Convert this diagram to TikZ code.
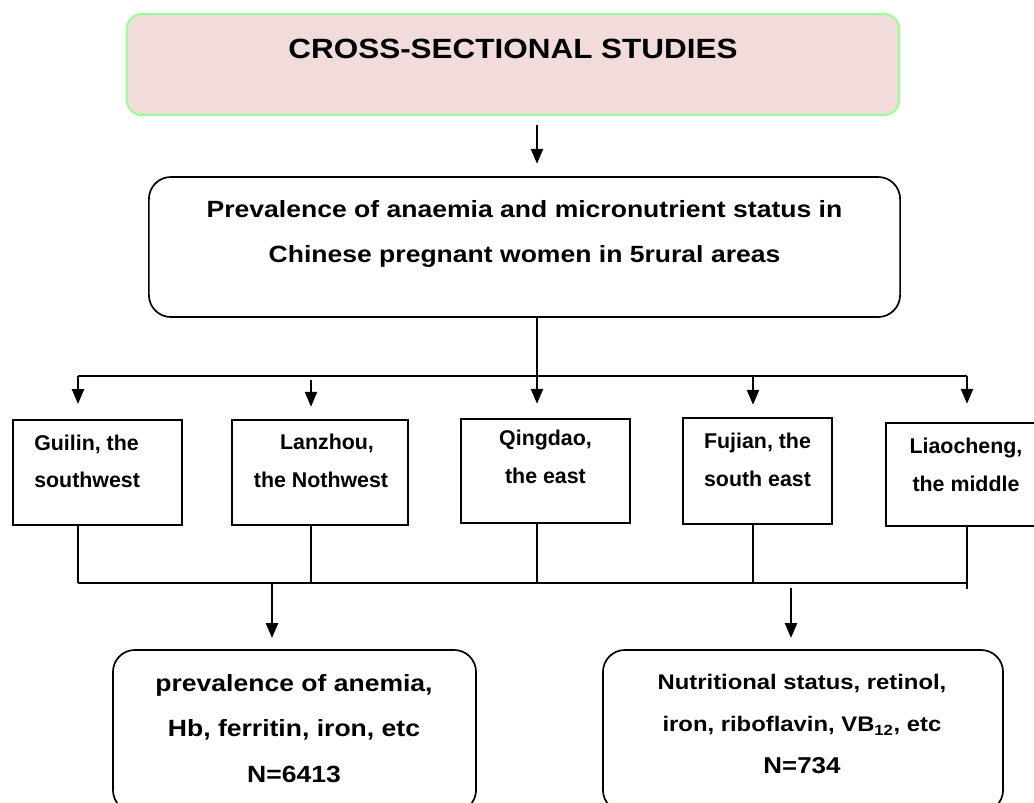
\documentclass[tikz,border=0pt]{standalone}
\usepackage{fontspec}
\setmainfont{Liberation Sans}
\newfontfamily\widesans{Liberation Sans}[FakeStretch=1.13]
\usetikzlibrary{arrows.meta}

\definecolor{titlepink}{HTML}{F2DCDB}
\definecolor{titlegreen}{HTML}{99FF99}

\begin{document}
\begin{tikzpicture}[x=0.025cm,y=-0.025cm,
  box/.style={draw,line width=1.2pt,inner sep=0pt,outer sep=0pt},
  roundbox/.style={box,rounded corners=0.55cm},
  conn/.style={line width=1.2pt},
  arr/.style={line width=1.4pt,-{Triangle[width=0.3cm,length=0.37cm]}},
  regtext/.style={font=\fontsize{15.2}{26.6}\selectfont\bfseries,align=center,inner sep=0pt},
  widetext/.style={font=\widesans\fontsize{16.7}{32.6}\selectfont\bfseries,align=center,inner sep=0pt}]
\useasboundingbox (0,0) rectangle (1034,803);

% boxes
\node[box,draw=titlegreen,fill=titlepink,line width=1.5pt,rounded corners=0.375cm,
  minimum width=19.3cm,minimum height=2.525cm] (title) at (513,64.5) {};
\node[roundbox,minimum width=18.775cm,minimum height=3.5cm] (facts) at (524.5,247) {};

\node[box,minimum width=4.225cm,minimum height=2.625cm] (guilin) at (97.5,472.5) {};
\node[box,minimum width=4.4cm,minimum height=2.625cm] (lanzhou) at (320,472.5) {};
\node[box,minimum width=4.225cm,minimum height=2.6cm] (qingdao) at (545.5,471) {};
\node[box,minimum width=3.725cm,minimum height=2.65cm] (fujian) at (757.5,471) {};
\node[box,minimum width=3.9cm,minimum height=2.575cm] (liaocheng) at (964,474.5) {};

\node[roundbox,minimum width=9.075cm,minimum height=4.05cm] (anemia) at (294.5,731) {};
\node[roundbox,minimum width=10cm,minimum height=4.05cm] (nutri) at (803,731) {};

% texts
\node[font=\widesans\fontsize{19.8}{24}\selectfont\bfseries,inner sep=0pt] (titletext) at (513,49) {CROSS-SECTIONAL STUDIES};
\node[widetext] (factstext) at (524.5,234) {Prevalence of anaemia and micronutrient status in\\Chinese pregnant women in 5rural areas};

\node[regtext,align=left,anchor=west] (guilintext) at (34,461.5) {Guilin, the\\southwest};
\node[regtext] (lanzhoutext) at (321,461) {\hspace*{0.3cm}Lanzhou,\\the Nothwest};
\node[regtext] (qingdaotext) at (545.5,457) {Qingdao,\\the east};
\node[regtext] (fujiantext) at (757.5,459.7) {Fujian, the\\south east};
\node[regtext] (liaochengtext) at (966,464.7) {Liaocheng,\\the middle};

\node[widetext] (anemiatext) at (294,728.5) {prevalence of anemia,\\Hb, ferritin, iron, etc\\N=6413};
\node[widetext,font=\widesans\fontsize{15}{29.8}\selectfont\bfseries] (nutritext) at (802,724.3)
  {Nutritional status, retinol,\\iron, riboflavin, VB\textsubscript{12}, etc\\\fontsize{16.3}{29.8}\selectfont N=734};

% connectors
\coordinate (t1) at (78,0);
\coordinate (t2) at (311,0);
\coordinate (t3) at (537,0);
\coordinate (t4) at (753,0);
\coordinate (t5) at (967,0);
\coordinate (busA) at (0,376);
\coordinate (busB) at (0,583);
\coordinate (dl) at (272,0);
\coordinate (dr) at (791,0);

\draw[arr,shorten <=0.25cm,shorten >=0.33cm] (t3 |- title.south) -- (t3 |- facts.north);
\draw[arr,shorten >=0.38cm] (t3 |- facts.south) -- (t3 |- qingdao.north);

\draw[conn] (t1 |- busA) -- (t5 |- busA);
\draw[arr,shorten >=0.4cm] (t1 |- busA) -- (t1 |- guilin.north);
\draw[arr,shorten <=0.1cm,shorten >=0.33cm] (t2 |- busA) -- (t2 |- lanzhou.north);
\draw[arr,shorten >=0.33cm] (t4 |- busA) -- (t4 |- fujian.north);
\draw[arr,shorten >=0.48cm] (t5 |- busA) -- (t5 |- liaocheng.north);

\draw[conn] (t1 |- guilin.south) -- (t1 |- busB);
\draw[conn] (t2 |- lanzhou.south) -- (t2 |- busB);
\draw[conn] (t3 |- qingdao.south) -- (t3 |- busB);
\draw[conn] (t4 |- fujian.south) -- (t4 |- busB);
\draw[conn,shorten >=-0.15cm] (t5 |- liaocheng.south) -- (t5 |- busB);
\draw[conn] (t1 |- busB) -- (t5 |- busB);

\draw[arr,shorten >=0.3cm] (dl |- busB) -- (dl |- anemia.north);
\draw[arr,shorten <=0.13cm,shorten >=0.3cm] (dr |- busB) -- (dr |- nutri.north);
\end{tikzpicture}
\end{document}
